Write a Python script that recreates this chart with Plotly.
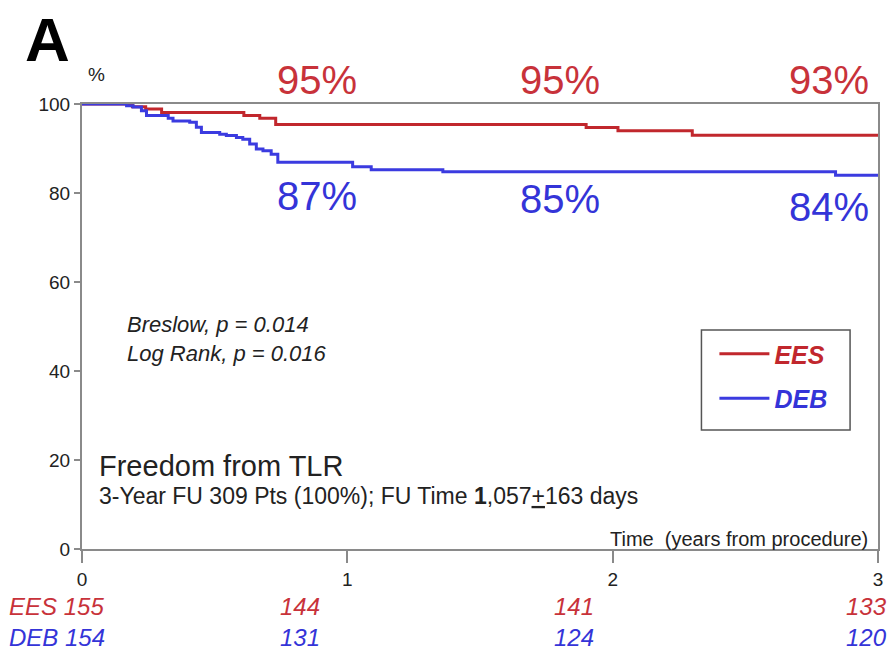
import plotly.graph_objects as go

# ---- data ----
ees_time = [0, 0.19, 0.24, 0.30, 0.61, 0.67, 0.73, 1.90, 2.02, 2.30, 3.0]
ees_surv = [100, 99.4, 98.9, 98.1, 97.4, 96.8, 95.4, 94.7, 94.0, 93.0, 93.0]

deb_time = [0, 0.168, 0.193, 0.224, 0.243, 0.325, 0.343, 0.406, 0.431, 0.45, 0.519,
            0.544, 0.582, 0.606, 0.632, 0.657, 0.682, 0.713, 0.738, 1.02, 1.09, 1.36,
            2.84, 3.0]
deb_surv = [100, 99.6, 99.3, 98.5, 97.4, 96.8, 96.2, 95.9, 94.8, 93.6, 93.2,
            92.9, 92.5, 92.1, 91.0, 89.9, 89.5, 88.7, 86.9, 85.9, 85.2, 84.8,
            84.0, 84.0]

x_ticks = [0, 1, 2, 3]
y_ticks = [0, 20, 40, 60, 80, 100]

ees_labels = ["95%", "95%", "93%"]
deb_labels = ["87%", "85%", "84%"]
label_times = [0.887, 1.80, 2.816]

ees_at_risk = ["144", "141", "133"]
deb_at_risk = ["131", "124", "120"]
at_risk_times = [0.82, 1.853, 2.955]

RED = "#c1272d"
BLUE = "#3b3be0"
RED_TXT = "#c8323a"
BLUE_TXT = "#3434d8"
FONT = "Arial, Liberation Sans, sans-serif"

# plot area in pixels (for placing paper-referenced text)
PL, PR, PT, PB = 82, 880, 104, 549


def px_x(px):
    return (px - PL) / (PR - PL)


def px_y(py):
    return (PB - py) / (PB - PT)


fig = go.Figure()
fig.add_trace(go.Scatter(x=ees_time, y=ees_surv, mode="lines", line_shape="hv",
                         line=dict(color=RED, width=3),
                         name='<b><i><span style="color:#c1272d">EES</span></i></b>',
                         legendgroup="a"))
fig.add_trace(go.Scatter(x=deb_time, y=deb_surv, mode="lines", line_shape="hv",
                         line=dict(color=BLUE, width=3),
                         name='<b><i><span style="color:#3434d8">DEB</span></i></b>',
                         legendgroup="b"))

ann = []


def add(x, y, text, size, color="#222", xref="paper", yref="paper",
        xanchor="center", yanchor="middle", align="center"):
    ann.append(dict(x=x, y=y, xref=xref, yref=yref, text=text, showarrow=False,
                    xanchor=xanchor, yanchor=yanchor, align=align,
                    font=dict(size=size, color=color, family=FONT)))


# panel letter and % label
add(px_x(47), px_y(40), "<b>A</b>", 62, "black")
add(px_x(97), px_y(74), "%", 19)
# percent labels
for t, s in zip(label_times, ees_labels):
    add(t, px_y(80), s, 40, RED_TXT, xref="x")
for t, s, py in zip(label_times, deb_labels, [196, 199, 207]):
    add(t, px_y(py), s, 40, BLUE_TXT, xref="x")
# statistics
add(0.162, px_y(324), "<i>Breslow, p = 0.014</i>", 22, xref="x", xanchor="left")
add(0.162, px_y(353), "<i>Log Rank, p = 0.016</i>", 22, xref="x", xanchor="left")
# titles in the plot (one block, two sizes)
add(0.056, px_y(480),
    "<span style='font-size:29px'>Freedom from TLR</span><br>"
    "<span style='font-size:23px'>3-Year FU 309 Pts (100%); FU Time <b>1</b>,057<u>+</u>163 days</span>",
    21.5, xref="x", xanchor="left", align="left")
add(2.97, px_y(539), "Time  (years from procedure)", 20, xref="x", xanchor="right")
# numbers at risk
add(px_x(7), px_y(606), "<i>EES 155</i>", 24, RED_TXT, xanchor="left")
add(px_x(7), px_y(637), "<i>DEB 154</i>", 24, BLUE_TXT, xanchor="left")
for t, s in zip(at_risk_times, ees_at_risk):
    add(t, px_y(606), f"<i>{s}</i>", 24, RED_TXT, xref="x")
for t, s in zip(at_risk_times, deb_at_risk):
    add(t, px_y(637), f"<i>{s}</i>", 24, BLUE_TXT, xref="x")

# legend frame
shapes = [dict(type="rect", xref="paper", yref="paper",
               x0=px_x(703), x1=px_x(852), y0=px_y(430), y1=px_y(330),
               line=dict(color="#555", width=1.5), fillcolor="white", layer="below")]

fig.update_layout(
    width=895, height=656,
    margin=dict(l=PL, r=895 - PR, t=PT, b=656 - PB),
    paper_bgcolor="white", plot_bgcolor="white",
    font=dict(family=FONT, color="#222"),
    showlegend=True,
    legend=dict(x=px_x(716), y=px_y(331), xanchor="left", yanchor="top",
                bgcolor="rgba(0,0,0,0)", borderwidth=0, tracegroupgap=9,
                itemwidth=50,
                font=dict(size=25, family=FONT)),
    annotations=ann,
    shapes=shapes,
)
fig.update_xaxes(range=[0, 3], tickvals=x_ticks, ticktext=[str(v) for v in x_ticks],
                 showgrid=False, zeroline=False, showline=True, mirror=True,
                 linecolor="#8a8a8a", linewidth=2, ticks="outside", ticklen=12,
                 tickcolor="#8a8a8a", tickwidth=1.5,
                 tickfont=dict(size=19, color="#222", family=FONT))
fig.update_yaxes(range=[0, 100], tickvals=y_ticks, ticktext=[str(v) for v in y_ticks],
                 showgrid=False, zeroline=False, showline=True, mirror=True,
                 linecolor="#8a8a8a", linewidth=2, ticks="outside", ticklen=6,
                 tickcolor="#8a8a8a", tickwidth=1.5,
                 tickfont=dict(size=19, color="#222", family=FONT))

fig.write_html("out.html")
